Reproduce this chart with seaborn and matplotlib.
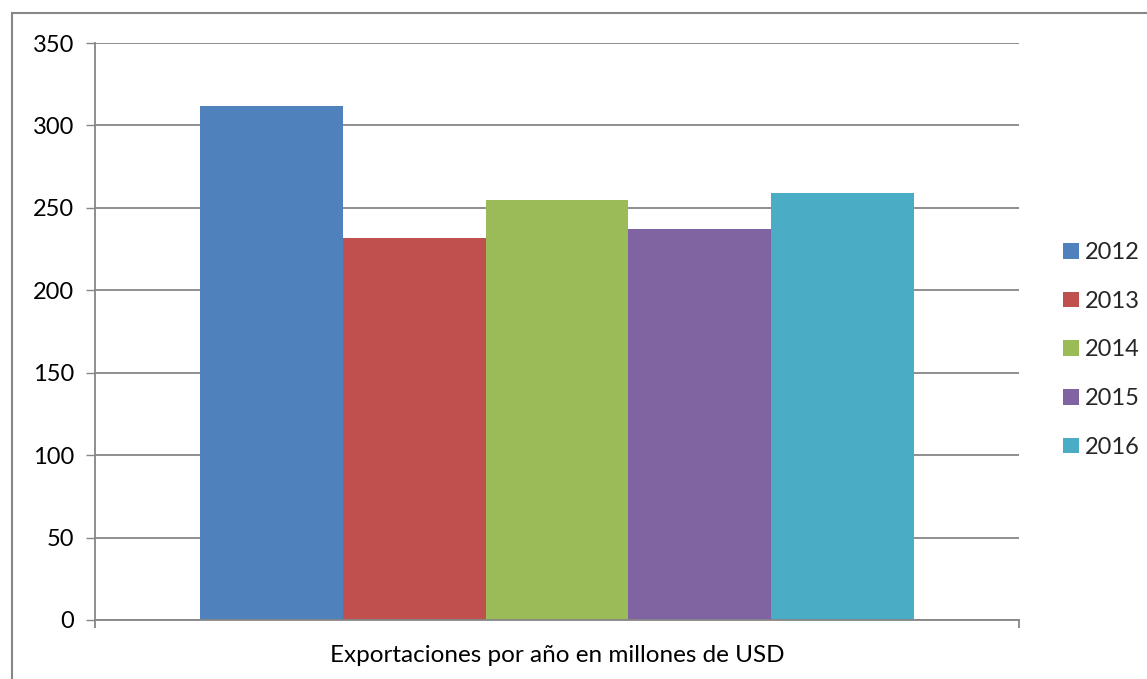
import matplotlib
matplotlib.use("Agg")
import matplotlib.pyplot as plt
from matplotlib.patches import Rectangle
import seaborn as sns
import pandas as pd

# Export values per year (millions of USD)
categoria = ["Exportaciones por año en millones de USD"]
anios = ["2012", "2013", "2014", "2015", "2016"]
valores = [312, 232, 255, 237, 259]
colores = ["#4F81BD", "#C0504D", "#9BBB59", "#8064A2", "#4BACC6"]
yticks = [0, 50, 100, 150, 200, 250, 300, 350]

df = pd.DataFrame({
    "categoria": categoria * len(anios),
    "anio": anios,
    "valor": valores,
})

sns.set_theme(style="white")
plt.rcParams["font.family"] = ["Lato", "DejaVu Sans"]

fig = plt.figure(figsize=(11.47, 6.79), dpi=100)
ax = fig.add_axes([95 / 1147, 1 - 620 / 679, (1019 - 95) / 1147, (620 - 43) / 679])

sns.barplot(data=df, x="categoria", y="valor", hue="anio", hue_order=anios,
            palette=colores, width=0.772, saturation=1, ax=ax, legend=True,
            linewidth=0, edgecolor="none")

fs = 17
grid_c = "#868686"
ax.set_ylim(0, 350)
ax.set_xlim(-0.5, 0.5)
ax.set_yticks(yticks)
ax.set_yticklabels([str(v) for v in yticks], fontsize=fs, color="black")
ax.yaxis.grid(True, color=grid_c, linewidth=1.3)
ax.set_axisbelow(True)
ax.tick_params(axis="y", length=6.5, width=1.0, color=grid_c, pad=8.5, left=True)
ax.set_xticks([0])
ax.set_xticklabels(categoria, fontsize=17.5, color="black")
ax.tick_params(axis="x", length=0, pad=18)
ax.set_xticks([-0.5, 0.5], minor=True)
ax.tick_params(axis="x", which="minor", length=6, width=1.3, color=grid_c, bottom=True)
ax.set_xlabel("")
ax.set_ylabel("")
for side in ["top", "right"]:
    ax.spines[side].set_visible(False)
for side in ["left", "bottom"]:
    ax.spines[side].set_color(grid_c)
    ax.spines[side].set_linewidth(1.3)

leg = ax.legend(loc="center left", bbox_to_anchor=(1.025, 0.468), frameon=False,
                fontsize=fs, handlelength=0.65, handleheight=0.65,
                labelspacing=1.17, handletextpad=0.25)
for h in leg.legend_handles:
    h.set_linewidth(0)

# Outer chart frame
fig.patches.append(Rectangle((12 / 1147, -0.1), 1.2, 1.1 - 13 / 679,
                             transform=fig.transFigure, fill=False,
                             edgecolor="#878787", linewidth=1.5))

fig.savefig("out.png", dpi=100, facecolor="white")
